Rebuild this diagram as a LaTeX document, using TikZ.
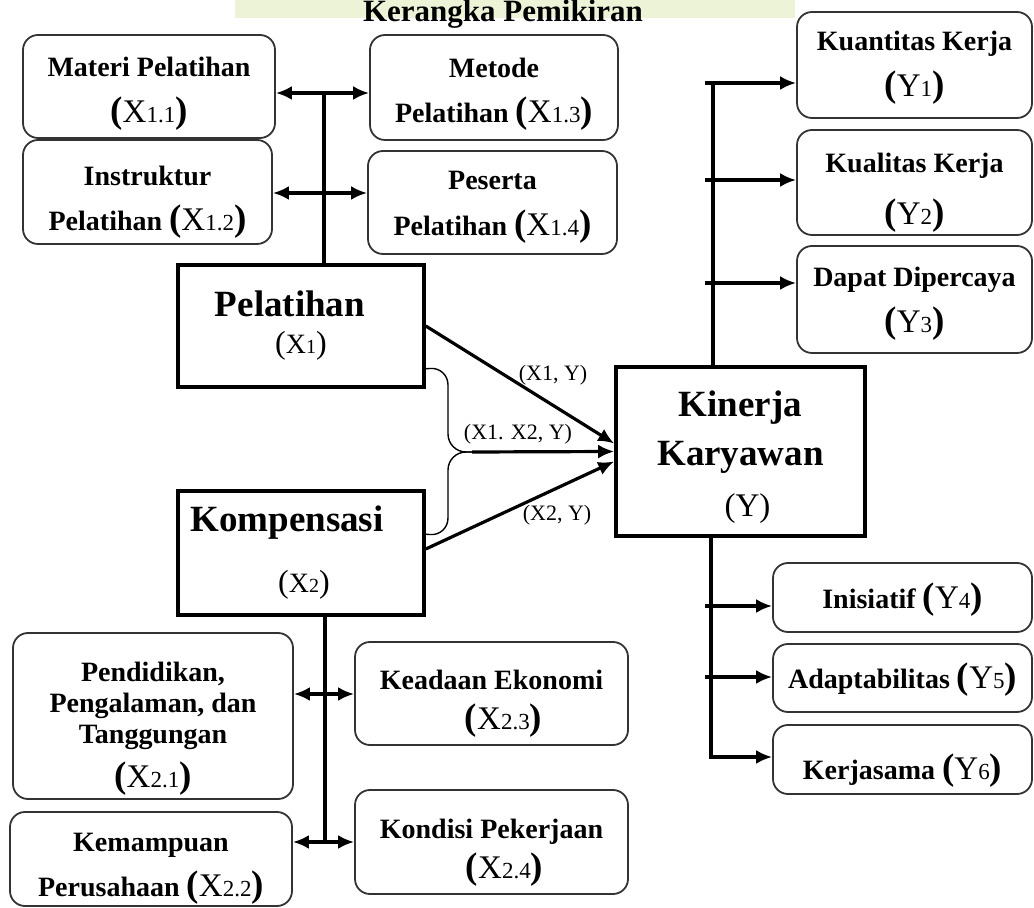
\documentclass[tikz,border=0pt]{standalone}
\usepackage{fontspec}
\setmainfont{Liberation Serif}
\usetikzlibrary{calc, arrows.meta}

\newcommand{\vx}[2]{{\fontsize{18.5}{18}\selectfont(}{\mdseries\fontsize{16.5}{16}\selectfont #1{\fontsize{11.5}{11}\selectfont #2}}{\fontsize{18.5}{18}\selectfont)}}
\newcommand{\vxb}[2]{{\mdseries\fontsize{16}{15}\selectfont(}{\mdseries\fontsize{14}{13}\selectfont #1{\fontsize{10}{9.5}\selectfont #2}}{\mdseries\fontsize{16}{15}\selectfont)}}

\definecolor{wmark}{RGB}{236,243,214}

\tikzset{
  ind/.style={draw=black!80, line width=0.9pt, rounded corners=7.5pt, inner sep=0pt},
  txt/.style={align=center, inner sep=0pt, font=\fontsize{14}{23}\selectfont\bfseries},
  var/.style={draw, line width=1.8pt, align=center, inner sep=0pt},
  sz/.style 2 args={minimum width=#1*0.5pt, minimum height=#2*0.5pt},
  conn/.style={line width=1.6pt},
  lbl/.style={font=\fontsize{11}{11}\selectfont, inner sep=1pt}
}

\begin{document}
\begin{tikzpicture}[x=0.5pt, y=-0.5pt, >={Latex[length=8pt,width=7pt]}]
\useasboundingbox (0,0) rectangle (1034,908);
\fill[wmark] (235,0) rectangle (795,18);
\node[font=\fontsize{15.5}{16}\selectfont\bfseries, anchor=base] (ttl) at (503,22) {Kerangka Pemikiran};

% indikator pelatihan
\node[ind, sz={252}{103}] (mat) at (149,86.5) {};
\node[ind, sz={249}{104}] (ins) at (147.5,192) {};
\node[ind, sz={248}{105}] (met) at (494,87.5) {};
\node[ind, sz={249}{103}] (pes) at (492.5,202.5) {};
\node[txt] (tmat) at ($(mat)+(0,7)$) {Materi Pelatihan\\\vx{X}{1.1}};
\node[txt] (tins) at ($(ins)+(0,10)$) {Instruktur\\[-0.5pt]Pelatihan \vx{X}{1.2}};
\node[txt] (tmet) at ($(met)+(0,7)$) {Metode\\[-0.5pt]Pelatihan \vx{X}{1.3}};
\node[txt] (tpes) at ($(pes)+(0,5)$) {Peserta\\Pelatihan \vx{X}{1.4}};

% variabel
\node[var, sz={246}{122}, font=\fontsize{18.5}{18.5}\selectfont\bfseries] (pel) at (301,326)
  {Pelatihan\hspace*{11pt}\\\vxb{X}{1}};
\node[var, sz={246}{124}, font=\fontsize{18.5}{18.5}\selectfont\bfseries] (kom) at (301,553)
  {Kompensasi\hspace*{14pt}\\[12pt]\hspace*{3pt}\vxb{X}{2}};
\node[var, sz={249}{169}] (kin) at (740.5,451.5) {};
\node[txt, font=\fontsize{18.5}{24.5}\selectfont\bfseries] (tkin) at ($(kin)+(0,6)$)
  {Kinerja\\Karyawan\\[1pt]\hspace*{7pt}{\mdseries\fontsize{16.5}{16.5}\selectfont(Y)}};

% indikator kinerja
\node[ind, sz={235}{106}] (y1) at (914.5,65) {};
\node[ind, sz={235}{105}] (y2) at (914.5,182.5) {};
\node[ind, sz={235}{107}] (y3) at (914.5,299.5) {};
\node[ind, sz={259}{69}] (y4) at (902.5,597.5) {};
\node[ind, sz={259}{68}] (y5) at (902.5,678) {};
\node[ind, sz={259}{69}] (y6) at (902.5,759.5) {};
\node[txt] (ty1) at ($(y1)+(0,3)$) {Kuantitas Kerja\\\vx{Y}{1}};
\node[txt] (ty2) at ($(y2)+(0,10)$) {Kualitas Kerja\\[3pt]\vx{Y}{2}};
\node[txt] (ty3) at ($(y3)+(0,4)$) {Dapat Dipercaya\\\vx{Y}{3}};
\node[txt] (ty4) at ($(y4)+(0,2)$) {Inisiatif \vx{Y}{4}};
\node[txt] (ty5) at ($(y5)+(0,2)$) {Adaptabilitas \vx{Y}{5}};
\node[txt] (ty6) at ($(y6)+(0,11)$) {Kerjasama \vx{Y}{6}};

% indikator kompensasi
\node[ind, sz={280}{166}] (pen) at (153,716) {};
\node[ind, sz={282}{94}] (kem) at (151,859) {};
\node[ind, sz={273}{103}] (kea) at (491.5,693.5) {};
\node[ind, sz={273}{104}] (kon) at (491.5,842) {};
\node[txt, font=\fontsize{14}{15.5}\selectfont\bfseries] (tpen) at ($(pen)+(0,13)$)
  {Pendidikan,\\Pengalaman, dan\\Tanggungan\\[5pt]\vx{X}{2.1}};
\node[txt, font=\fontsize{14}{22.5}\selectfont\bfseries] (tkem) at ($(kem)+(0,10)$)
  {Kemampuan\\Perusahaan \vx{X}{2.2}};
\node[txt] (tkea) at ($(kea)+(0,10)$) {Keadaan Ekonomi\\[-3pt]\hspace*{12pt}\vx{X}{2.3}};
\node[txt] (tkon) at ($(kon)+(0,11)$) {Kondisi Pekerjaan\\[-3pt]\hspace*{13pt}\vx{X}{2.4}};

% garis cabang
\coordinate (j1) at (324,93);
\coordinate (j2) at (324,193);
\coordinate (j3) at (325,694);
\coordinate (j4) at (325,842);
\draw[conn] (pel.north -| j1) -- (j1);
\draw[conn,<->] (mat.east |- j1) -- (met.west |- j1);
\draw[conn,<->] (ins.east |- j2) -- (pes.west |- j2);
\draw[conn] (kom.south -| j4) -- (j4);
\draw[conn,<->] (pen.east |- j3) -- (kea.west |- j3);
\draw[conn,<->] (kem.east |- j4) -- (kon.west |- j4);

\coordinate (rt) at (713,83);
\coordinate (r1) at (705,83);
\coordinate (r2) at (705,180);
\coordinate (r3) at (705,283);
\coordinate (rb) at (711,757);
\coordinate (r4) at (705,606);
\coordinate (r5) at (705,677);
\draw[conn] (kin.north -| rt) -- (rt);
\draw[conn,->] (r1) -- (y1.west |- r1);
\draw[conn,->] (r2) -- (y2.west |- r2);
\draw[conn,->] (r3) -- (y3.west |- r3);
\draw[conn,->] (kin.south -| rb) -- (rb) -- (y6.west |- rb);
\draw[conn,->] (r4) -- (y4.west |- r4);
\draw[conn,->] (r5) -- (y5.west |- r5);

% pengaruh
\coordinate (b1) at ($(pel.south east)+(0,-20)$);
\coordinate (b2) at ($(kom.north east)+(0,45)$);
\coordinate (bj) at (472,452);
\draw[line width=0.7pt, rounded corners=9pt] (b1) -- (448,367) -- (448,452) -- (bj);
\draw[line width=0.7pt, rounded corners=9pt] (b2) -- (448,536) -- (448,452) -- (bj);
\draw[conn,->] (pel.east) -- ($(kin.west)+(0,-8)$);
\draw[conn,->] (bj) -- (kin.west);
\draw[conn,->] ($(kom.east)+(0,-4)$) -- ($(kin.west)+(0,10)$);
\node[lbl] (l1) at (553,375) {(X1, Y)};
\node[lbl] (l2) at (518,434) {(X1. X2, Y)};
\node[lbl] (l3) at (557,515) {(X2, Y)};
\end{tikzpicture}
\end{document}
